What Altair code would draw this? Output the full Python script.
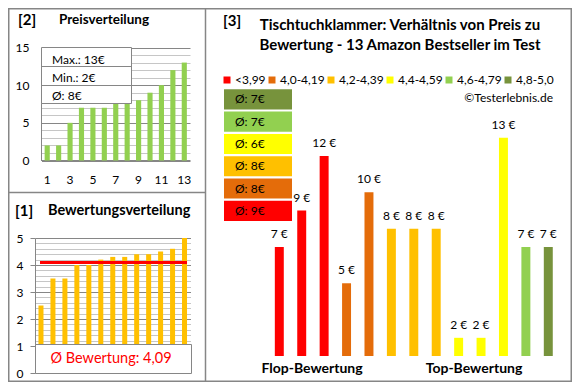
import altair as alt
import pandas as pd

# ---------------- data ----------------
rank = [1, 2, 3, 4, 5, 6, 7, 8, 9, 10, 11, 12, 13]
prices_sorted = [2, 2, 5, 7, 7, 7, 8, 8, 8, 9, 10, 12, 13]
ratings_sorted = [2.5, 3.5, 3.5, 4.0, 4.0, 4.2, 4.3, 4.3, 4.4, 4.4, 4.5, 4.6, 5.0]
prices_by_rating = [7, 9, 12, 5, 10, 8, 8, 8, 2, 2, 13, 7, 7]
group_of_product = ["<3,99", "<3,99", "<3,99", "4,0-4,19", "4,0-4,19",
                    "4,2-4,39", "4,2-4,39", "4,2-4,39",
                    "4,4-4,59", "4,4-4,59", "4,4-4,59", "4,6-4,79", "4,8-5,0"]
group_labels = ["<3,99", "4,0-4,19", "4,2-4,39", "4,4-4,59", "4,6-4,79", "4,8-5,0"]
group_colors = ["#ff0000", "#e46c0a", "#ffc000", "#ffff00", "#92d050", "#77933c"]
group_avg = [9, 8, 8, 6, 7, 7]
priceA_ticks = [0, 5, 10, 15]
priceA_minor = [1, 2, 3, 4, 6, 7, 8, 9, 11, 12, 13, 14]
rankA_labels = [1, 3, 5, 7, 9, 11, 13]
ratingB_ticks = [0, 1, 2, 3, 4, 5]
ratingB_minor = [round(i * 0.2, 1) for i in range(26) if i % 5]

W, H = 564, 374
FONT = "Lato"
FRAME = "#868686"
GRID_MINOR = "#c6c6c6"
GRID_MAJOR = "#868686"

dfA = pd.DataFrame({"rank": rank, "price": prices_sorted})
dfB = pd.DataFrame({"rank": rank, "rating": ratings_sorted})
dfC = pd.DataFrame({"prod": rank, "price": prices_by_rating, "group": group_of_product,
                    "label": [f"{p} €" for p in prices_by_rating]})
dfM = pd.DataFrame({"group": group_labels, "avg": group_avg,
                    "label": [f"Ø: {a}€" for a in group_avg]})
mean_rating = sum(ratings_sorted) / len(ratings_sorted)
dfMean = pd.DataFrame({"m": [mean_rating]})
one = pd.DataFrame({"k": [0]})

# ---------------- panel A: Preisverteilung ----------------
xA = alt.Scale(domain=rank, range=[33.5, 182], paddingInner=0.55, paddingOuter=0.275)
yA = alt.Scale(domain=[0, 15], range=[152.5, 39.5], nice=False)

a_minor = alt.Chart(dfA).mark_bar(opacity=0).encode(
    x=alt.X("rank:O", scale=xA, axis=None),
    y=alt.Y("price:Q", scale=yA, axis=alt.Axis(
        orient="left", offset=-33, values=priceA_minor, grid=True, gridColor=GRID_MINOR,
        labels=False, ticks=False, domain=False, title=None)),
)
a_bars = alt.Chart(dfA).mark_bar(color="#92d050").encode(
    x=alt.X("rank:O", scale=xA, axis=alt.Axis(
        orient="bottom", offset=152 - H, values=rankA_labels, labelAngle=0, labelPadding=14,
        ticks=False, tickSize=0, domain=True, domainColor=FRAME, grid=False, title=None,
        labelFont=FONT, labelFontSize=12, labelColor="black")),
    y=alt.Y("price:Q", scale=yA, axis=alt.Axis(
        orient="left", offset=-33, values=priceA_ticks, grid=True, gridColor=GRID_MAJOR,
        labels=True, ticks=False, tickSize=0, labelPadding=12, domain=True, domainColor=FRAME,
        title=None, labelFont=FONT, labelFontSize=12, labelColor="black")),
)
a_box = alt.Chart(one).mark_rect(fill="white", stroke=FRAME, strokeWidth=1).encode(
    x=alt.value(33.5), x2=alt.value(123.5), y=alt.value(39.5), y2=alt.value(95.5))
a_div1 = alt.Chart(one).mark_rule(color=FRAME).encode(
    x=alt.value(33.5), x2=alt.value(123.5), y=alt.value(58.5))
a_div2 = alt.Chart(one).mark_rule(color=FRAME).encode(
    x=alt.value(33.5), x2=alt.value(123.5), y=alt.value(77.5))
info_texts = [f"Max.: {max(prices_sorted)}€", f"Min.: {min(prices_sorted)}€",
              f"Ø: {round(sum(prices_sorted) / len(prices_sorted))}€"]
a_txt = [alt.Chart(one).mark_text(align="left", baseline="middle", font=FONT, fontSize=12,
                                  color="black").encode(
    x=alt.value(44), y=alt.value(yy), text=alt.value(t))
    for t, yy in zip(info_texts, [52, 70, 88])]

# ---------------- panel B: Bewertungsverteilung ----------------
xB = alt.Scale(domain=rank, range=[27, 182.5], paddingInner=0.58, paddingOuter=0.29)
yB = alt.Scale(domain=[0, 5], range=[365, 230], nice=False)

b_minor = alt.Chart(dfB).mark_bar(opacity=0).encode(
    x=alt.X("rank:O", scale=xB, axis=None),
    y=alt.Y("rating:Q", scale=yB, axis=alt.Axis(
        orient="left", offset=-27, values=ratingB_minor, grid=True, gridColor=GRID_MINOR,
        labels=False, ticks=False, domain=False, title=None)),
)
b_bars = alt.Chart(dfB).mark_bar(color="#ffc000").encode(
    x=alt.X("rank:O", scale=xB, axis=None),
    y=alt.Y("rating:Q", scale=yB, axis=alt.Axis(
        orient="left", offset=-27, values=ratingB_ticks, grid=True, gridColor=GRID_MAJOR,
        labels=True, ticks=True, tickSize=5, tickColor=FRAME, labelPadding=7, domain=True,
        domainColor=FRAME, title=None, labelFont=FONT, labelFontSize=12, labelColor="black")),
)
b_mean = alt.Chart(dfMean).mark_rule(color="#ff0000", strokeWidth=3).encode(
    x=alt.value(32), x2=alt.value(179),
    y=alt.Y("m:Q", scale=yB, axis=None),
)
b_box = alt.Chart(one).mark_rect(fill="white", stroke=FRAME, strokeWidth=1).encode(
    x=alt.value(27.5), x2=alt.value(183.5), y=alt.value(336.5), y2=alt.value(365.5))
b_txt = alt.Chart(one).mark_text(align="center", baseline="middle", font=FONT, fontSize=14.5,
                                 color="#ff0000").encode(
    x=alt.value(103), y=alt.value(350.5),
    text=alt.value("Ø Bewertung: " + f"{mean_rating:.2f}".replace(".", ",")))

# ---------------- panel C: Preis vs Bewertung ----------------
xC = alt.Scale(domain=rank, range=[260.1, 551.5], paddingInner=0.6, paddingOuter=0.3)
yC = alt.Scale(domain=[1, 13], range=[348, 129.8], nice=False, zero=False)
colC = alt.Scale(domain=group_labels, range=group_colors)

c_bars = alt.Chart(dfC).mark_bar().encode(
    x=alt.X("prod:O", scale=xC, axis=None),
    y=alt.Y("price:Q", scale=yC, axis=None),
    y2=alt.datum(1),
    color=alt.Color("group:N", scale=colC, legend=alt.Legend(
        orient="none", legendX=213, legendY=66, direction="horizontal", columns=6,
        symbolType="square", symbolSize=49, symbolStrokeWidth=0, labelFont=FONT,
        labelFontSize=12, labelColor="black", columnPadding=0, labelOffset=2,
        title=None, padding=0)),
)
c_lbl = alt.Chart(dfC).mark_text(baseline="middle", font=FONT, fontSize=12, color="black",
                                 dy=-13).encode(
    x=alt.X("prod:O", scale=xC, axis=None),
    y=alt.Y("price:Q", scale=yC, axis=None),
    text="label:N",
)
yM = alt.Scale(domain=list(reversed(group_labels)), range=[80.2, 214],
               paddingInner=0.1, paddingOuter=0.05)
m_box = alt.Chart(dfM).mark_rect().encode(
    x=alt.value(216), x2=alt.value(284),
    y=alt.Y("group:N", scale=yM, axis=None),
    color=alt.Color("group:N", scale=colC, legend=None),
)
m_txt = alt.Chart(dfM).mark_text(align="left", baseline="middle", font=FONT, fontSize=12,
                                 color="black").encode(
    x=alt.value(227),
    y=alt.Y("group:N", scale=yM, axis=None),
    text="label:N",
)

# ---------------- texts ----------------
def txt(s, x, y, size=13, bold=True, align="left", color="black"):
    return alt.Chart(one).mark_text(align=align, baseline="middle", font=FONT, fontSize=size,
                                    fontWeight="bold" if bold else "normal", color=color).encode(
        x=alt.value(x), y=alt.value(y), text=alt.value(s))

texts = [
    txt("[2]", 10, 12, 15),
    txt("Preisverteilung", 51, 12, 13.5),
    txt("[1]", 7, 203, 15),
    txt("Bewertungsverteilung", 40, 203, 14.5),
    txt("[3]", 215, 13, 15),
    txt("Tischtuchklammer: Verhältnis von Preis zu", 392, 17, 15, align="center"),
    txt("Bewertung - 13 Amazon Bestseller im Test", 392, 37, 15, align="center"),
    txt("©Testerlebnis.de", 545, 90, 12, bold=False, align="right"),
    txt("Flop-Bewertung", 304, 361, 14, align="center"),
    txt("Top-Bewertung", 466, 361, 14, align="center"),
]

# ---------------- frames ----------------
frame = alt.Chart(one).mark_rect(fill="white", fillOpacity=0, stroke=FRAME, strokeWidth=1.5).encode(
    x=alt.value(0.75), x2=alt.value(563.25), y=alt.value(0.75), y2=alt.value(373.25))
vdiv = alt.Chart(one).mark_rule(color=FRAME, strokeWidth=1.5).encode(
    x=alt.value(197.5), y=alt.value(0), y2=alt.value(374))
hdiv = alt.Chart(one).mark_rule(color=FRAME, strokeWidth=1.5).encode(
    x=alt.value(0), x2=alt.value(197.5), y=alt.value(184.5))

chart = alt.layer(
    a_minor, a_bars, a_box, a_div1, a_div2, *a_txt,
    b_minor, b_bars, b_mean, b_box, b_txt,
    c_bars, c_lbl, m_box, m_txt,
    *texts, frame, vdiv, hdiv,
).resolve_scale(
    x="independent", y="independent", color="independent"
).properties(
    width=W, height=H, padding=0, background="white",
    autosize=alt.AutoSizeParams(type="none"),
).configure_view(strokeWidth=0)

chart.save("out.html", embed_options={"renderer": "svg", "actions": False})
